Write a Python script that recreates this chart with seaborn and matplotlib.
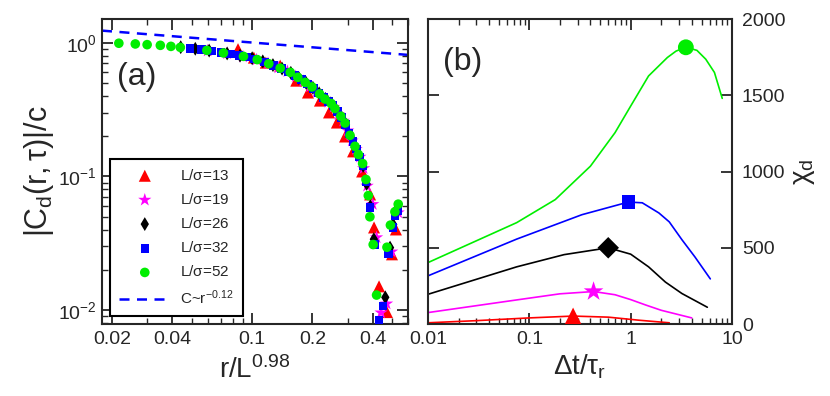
import numpy as np
import matplotlib
matplotlib.use("Agg")
import matplotlib.pyplot as plt
import seaborn as sns
from matplotlib.ticker import FixedLocator, LogLocator, NullFormatter, FixedFormatter

# panel (a): scaled spatial correlation |C_d(r,tau)|/c vs r/L^0.98
x13 = [0.085, 0.102, 0.117, 0.138, 0.166, 0.190, 0.218, 0.242, 0.265, 0.291, 0.319, 0.354,
       0.388, 0.406, 0.430, 0.471, 0.499, 0.522]
y13 = [0.894, 0.773, 0.709, 0.674, 0.520, 0.424, 0.369, 0.301, 0.253, 0.199, 0.154, 0.109,
       0.0734, 0.0416, 0.0151, 0.0097, 0.0262, 0.0402]

x19 = [0.060, 0.075, 0.090, 0.105, 0.120, 0.135, 0.150, 0.165, 0.180, 0.195, 0.210, 0.225,
       0.240, 0.255, 0.270, 0.285, 0.300, 0.315, 0.330, 0.345, 0.360, 0.375, 0.400, 0.418,
       0.440, 0.469, 0.497, 0.536]
y19 = [0.87, 0.83, 0.785, 0.745, 0.70, 0.65, 0.61, 0.56, 0.515, 0.47, 0.43, 0.39,
       0.36, 0.33, 0.29, 0.26, 0.22, 0.185, 0.16, 0.14, 0.115, 0.085, 0.062, 0.035,
       0.0096, 0.0112, 0.0274, 0.0537]

x26 = [0.044, 0.052, 0.061, 0.075, 0.087, 0.100, 0.113, 0.127, 0.141, 0.156, 0.171, 0.186,
       0.201, 0.216, 0.232, 0.247, 0.263, 0.279, 0.294, 0.310, 0.326, 0.342, 0.358, 0.373,
       0.389, 0.405, 0.462, 0.488, 0.506, 0.530]
y26 = [0.925, 0.90, 0.872, 0.83, 0.80, 0.765, 0.725, 0.68, 0.64, 0.595, 0.545, 0.50,
       0.46, 0.418, 0.38, 0.352, 0.312, 0.278, 0.245, 0.20, 0.168, 0.143, 0.12, 0.088,
       0.06, 0.034, 0.0125, 0.0294, 0.0437, 0.058]

x32 = [0.049, 0.056, 0.063, 0.070, 0.078, 0.086, 0.094, 0.103, 0.115, 0.128, 0.140, 0.152,
       0.164, 0.176, 0.189, 0.202, 0.214, 0.227, 0.240, 0.253, 0.266, 0.279, 0.292, 0.305,
       0.318, 0.331, 0.344, 0.357, 0.370, 0.387, 0.410, 0.430, 0.451, 0.478, 0.505, 0.516, 0.536]
y32 = [0.905, 0.885, 0.866, 0.845, 0.825, 0.80, 0.78, 0.755, 0.715, 0.675, 0.64, 0.605,
       0.57, 0.53, 0.49, 0.455, 0.42, 0.39, 0.365, 0.34, 0.305, 0.275, 0.245, 0.21,
       0.183, 0.16, 0.14, 0.12, 0.092, 0.0585, 0.031, 0.0084, 0.0108, 0.0263, 0.0414, 0.0506, 0.0552]

x52 = [0.0216, 0.0261, 0.0299, 0.0348, 0.0393, 0.0438, 0.0594, 0.0719, 0.0905, 0.106, 0.121,
       0.138, 0.155, 0.169, 0.184, 0.199, 0.217, 0.231, 0.248, 0.259, 0.277, 0.291, 0.308,
       0.326, 0.339, 0.356, 0.370, 0.380, 0.387, 0.402, 0.418, 0.471, 0.490, 0.516, 0.536]
y52 = [0.99, 0.978, 0.966, 0.955, 0.938, 0.922, 0.876, 0.838, 0.790, 0.747, 0.696,
       0.645, 0.600, 0.551, 0.505, 0.467, 0.414, 0.379, 0.351, 0.322, 0.282, 0.251, 0.203,
       0.168, 0.146, 0.125, 0.095, 0.072, 0.050, 0.031, 0.013, 0.0296, 0.0433, 0.0545, 0.0621]

fit_x = [0.0178, 0.6]
fit_y = [1.23, 0.81]

# panel (b): chi_d vs dt/tau_r
t13 = [0.01, 0.03, 0.1, 0.27, 0.6, 1.2, 2.4]
c13 = [8, 22, 40, 52, 45, 25, 8]
t19 = [0.01, 0.075, 0.2, 0.43, 0.7, 1.0, 1.4, 2.0, 4.0]
c19 = [75, 158, 198, 213, 192, 160, 125, 90, 40]
t26 = [0.01, 0.075, 0.22, 0.6, 1.0, 1.5, 2.2, 3.2, 5.7]
c26 = [195, 375, 455, 500, 458, 375, 275, 200, 110]
t32 = [0.01, 0.075, 0.33, 0.95, 1.3, 1.9, 2.4, 3.2, 4.3, 6.1]
c32 = [316, 557, 717, 800, 795, 728, 670, 553, 440, 296]
t52 = [0.01, 0.075, 0.18, 0.4, 0.7, 1.0, 1.5, 2.3, 2.8, 3.5, 4.5, 5.5, 6.7, 8.0]
c52 = [403, 665, 816, 1035, 1255, 1430, 1627, 1748, 1790, 1815, 1795, 1737, 1650, 1480]

peak_t = [0.27, 0.43, 0.6, 0.95, 3.5]
peak_c = [52, 213, 500, 800, 1815]

sizes = ["13", "19", "26", "32", "52"]
colors = ["#ff0000", "#ff00ff", "#000000", "#0000ff", "#00ee00"]
markers = ["^", "*", "d", "s", "o"]

sns.set_style("ticks")
plt.rcParams["font.family"] = ["Liberation Sans", "DejaVu Sans"]
plt.rcParams["mathtext.fontset"] = "custom"
plt.rcParams["mathtext.rm"] = "Liberation Sans"
plt.rcParams["mathtext.it"] = "Liberation Sans"
plt.rcParams["mathtext.bf"] = "Liberation Sans:bold"

fig = plt.figure(figsize=(8.3, 3.96), dpi=100)
ax_a = fig.add_axes([0.1229, 0.1818, 0.3687, 0.770])
ax_b = fig.add_axes([0.5157, 0.1818, 0.3663, 0.770])

# ---- panel (a)
xs = [x13, x19, x26, x32, x52]
ys = [y13, y19, y26, y32, y52]
msize = [75, 100, 50, 38, 48]
for xv, yv, L, c, m, s in zip(xs, ys, sizes, colors, markers, msize):
    sns.scatterplot(x=xv, y=yv, ax=ax_a, color=c, marker=m, s=s, edgecolor="none",
                    label=r"L/$\sigma$=" + L, zorder=3)
sns.lineplot(x=fit_x, y=fit_y, ax=ax_a, color="#0000ff", lw=1.8,
             label=r"C~r$^{-0.12}$")
ax_a.lines[-1].set_dashes((4, 3))

ax_a.set_xscale("log")
ax_a.set_yscale("log")
ax_a.set_xlim(0.0178, 0.6)
ax_a.set_ylim(0.0079, 1.5)
ax_a.xaxis.set_major_locator(FixedLocator([0.02, 0.04, 0.1, 0.2, 0.4]))
ax_a.xaxis.set_major_formatter(FixedFormatter(["0.02", "0.04", "0.1", "0.2", "0.4"]))
ax_a.xaxis.set_minor_locator(LogLocator(base=10, subs=np.arange(1, 10)))
ax_a.xaxis.set_minor_formatter(NullFormatter())
ax_a.yaxis.set_minor_locator(LogLocator(base=10, subs=np.arange(1, 10)))
ax_a.yaxis.set_minor_formatter(NullFormatter())
ax_a.set_xlabel(r"r/L$^{0.98}$", fontsize=20, labelpad=6)
ax_a.set_ylabel(r"$|C_d(r,\tau)|/c$", fontsize=22, labelpad=2)
ax_a.text(0.05, 0.81, "(a)", transform=ax_a.transAxes, fontsize=23, va="center")

leg = ax_a.legend(loc="lower left", fontsize=11, handlelength=3.4, labelspacing=0.6,
                  borderaxespad=0.5, fancybox=False, framealpha=1, edgecolor="black",
                  handletextpad=0.6, borderpad=0.6)
leg.get_frame().set_linewidth(1.5)

# ---- panel (b)
ts = [t13, t19, t26, t32, t52]
cs = [c13, c19, c26, c32, c52]
for tv, cv, c in zip(ts, cs, colors):
    sns.lineplot(x=tv, y=cv, ax=ax_b, color=c, lw=1.2)
psize = [150, 220, 120, 90, 130]
for t, cval, c, m, s in zip(peak_t, peak_c, colors, markers, psize):
    mk = "D" if m == "d" else m
    sns.scatterplot(x=[t], y=[cval], ax=ax_b, color=c, marker=mk, s=s, edgecolor="none",
                    zorder=3)

ax_b.set_xscale("log")
ax_b.set_xlim(0.01, 10)
ax_b.set_ylim(0, 2000)
ax_b.xaxis.set_major_locator(FixedLocator([0.01, 0.1, 1, 10]))
ax_b.xaxis.set_major_formatter(FixedFormatter(["0.01", "0.1", "1", "10"]))
ax_b.xaxis.set_minor_locator(LogLocator(base=10, subs=np.arange(1, 10)))
ax_b.xaxis.set_minor_formatter(NullFormatter())
ax_b.set_yticks([0, 500, 1000, 1500, 2000])
ax_b.yaxis.set_label_position("right")
ax_b.set_xlabel(r"$\Delta t/\tau_r$", fontsize=20, labelpad=3)
ax_b.set_ylabel(r"$\chi_d$", fontsize=20, labelpad=4)
ax_b.text(0.05, 0.86, "(b)", transform=ax_b.transAxes, fontsize=23, va="center")

for ax in (ax_a, ax_b):
    for sp in ax.spines.values():
        sp.set_visible(True)
        sp.set_linewidth(1.5)
    ax.tick_params(which="major", direction="in", length=8, width=1.3, labelsize=14,
                   top=True, right=True, left=True, bottom=True)
    ax.tick_params(which="minor", direction="in", length=4, width=1.0,
                   top=True, right=True, left=True, bottom=True)
ax_b.tick_params(axis="y", labelleft=False, labelright=True, pad=7)
ax_b.tick_params(axis="x", pad=5)
ax_a.tick_params(axis="x", pad=5)

fig.savefig("out.png", dpi=100)
